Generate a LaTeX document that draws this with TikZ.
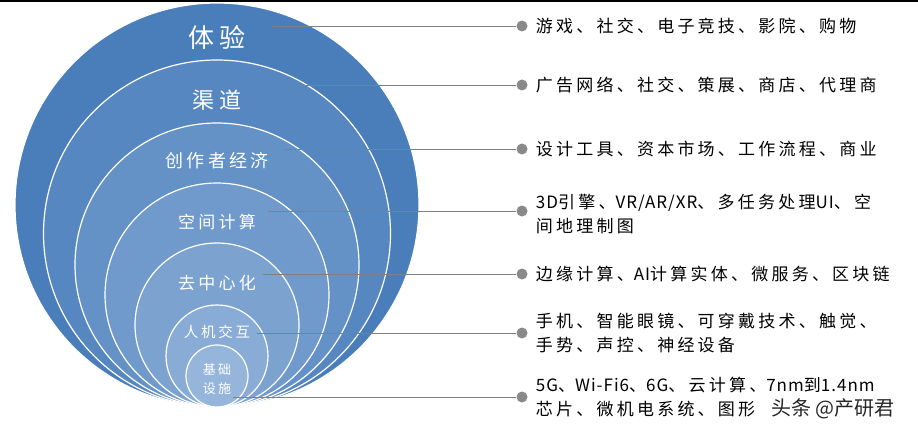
\documentclass[tikz,border=0pt]{standalone}
\usepackage{fontspec}
\usepackage{xcolor}
\usetikzlibrary{positioning}
\newfontfamily\cjk[LetterSpace=19]{Noto Sans CJK SC}
\newfontfamily\lat[LetterSpace=6]{Noto Sans CJK SC}
\newfontfamily\cjkplain{Noto Sans CJK SC}
\newcommand{\lt}[1]{{\lat #1}}
\definecolor{ringdark}{HTML}{4A7EBB}
\definecolor{ringlight}{HTML}{9AB9DD}
\definecolor{dotgray}{HTML}{8A8A8A}

\begin{document}
\begin{tikzpicture}[x=1pt,y=-1pt,
                    layer/.style = {text=white, align=center, inner sep=0pt},
                    dot/.style = {circle, fill=dotgray, inner sep=0pt, minimum size=11pt},
                    item/.style = {align=left, inner sep=0pt, font={\cjk\fontsize{17}{24}\selectfont}},
                    lead/.style = {-, draw=black!50, line width=0.8pt}]
  \useasboundingbox (0,0) rectangle (918,433);
  \draw[black, line width=2pt] (0,1) -- (918,1);

  % nested circles, all touching at the bottom
  \foreach \r/\m in {202/100, 173.5/84, 142/68, 112/53, 82/38, 51/22, 31/6}
    \draw[white, line width=1.2pt, fill=ringdark!\m!ringlight] (217,{407-\r}) circle (\r pt);

  \node[layer, font={\cjk\fontsize{26}{28}\selectfont}] (lexp) at (217,38) {体验};
  \node[layer, font={\cjk\fontsize{22}{24}\selectfont}] (lchan) at (217,100) {渠道};
  \node[layer, font={\cjk\fontsize{18}{20}\selectfont}] (lcreat) at (217,161) {创作者经济};
  \node[layer, font={\cjk\fontsize{17}{19}\selectfont}] (lspace) at (217,222) {空间计算};
  \node[layer, font={\cjk\fontsize{17}{19}\selectfont}] (ldec) at (217,283) {去中心化};
  \node[layer, font={\cjk\fontsize{14.5}{17}\selectfont}] (lhci) at (217,332) {人机交互};
  \node[layer, font={\cjk\fontsize{13}{19}\selectfont}] (lbase) at (217,379) {基础\\设施};

  \coordinate (s1) at (273,26);
  \coordinate (s2) at (288,85);
  \coordinate (s3) at (285,149);
  \coordinate (s4) at (268,211);
  \coordinate (s5) at (263,274);
  \coordinate (s6) at (257,333);
  \coordinate (s7) at (233,397);

  \node[dot] (d1) at (522,26) {};
  \node[dot] (d2) at (522,85) {};
  \node[dot] (d3) at (522,149) {};
  \node[dot] (d4) at (522,211) {};
  \node[dot] (d5) at (522,274) {};
  \node[dot] (d6) at (522,333) {};
  \node[dot] (d7) at (522,397) {};

  \node[item, right=8pt of d1] (t1) {游戏、社交、电子竞技、影院、购物};
  \node[item, right=8pt of d2] (t2) {广告网络、社交、策展、商店、代理商};
  \node[item, right=8pt of d3] (t3) {设计工具、资本市场、工作流程、商业};
  \node[item, right=8pt of d4, yshift=-3pt] (t4) {\lt{3D}引擎、\lt{VR/AR/XR}、多任务处理\lt{UI}、空\\间地理制图};
  \node[item, right=8pt of d5] (t5) {边缘计算、\lt{AI}计算实体、微服务、区块链};
  \node[item, right=8pt of d6] (t6) {手机、智能眼镜、可穿戴技术、触觉、\\手势、声控、神经设备};
  \node[item, right=8pt of d7] (t7) {\lt{5G}、\lt{Wi-Fi6}、\lt{6G}、云计算、\lt{7nm}到\lt{1.4nm}\\芯片、微机电系统、图形};

  \draw[lead] (s1) to (d1.west);
  \draw[lead] (s2) to (d2.west);
  \draw[lead] (s3) to (d3.west);
  \draw[lead] (s4) to (d4.west);
  \draw[lead] (s5) to (d5.west);
  \draw[lead] (s6) to (d6.west);
  \draw[lead] (s7) to (d7.west);

  \node[inner sep=0pt, font={\cjkplain\fontsize{20}{22}\selectfont}, text=black!85] (mark) at (833,409) {头条 @产研君};
\end{tikzpicture}
\end{document}
